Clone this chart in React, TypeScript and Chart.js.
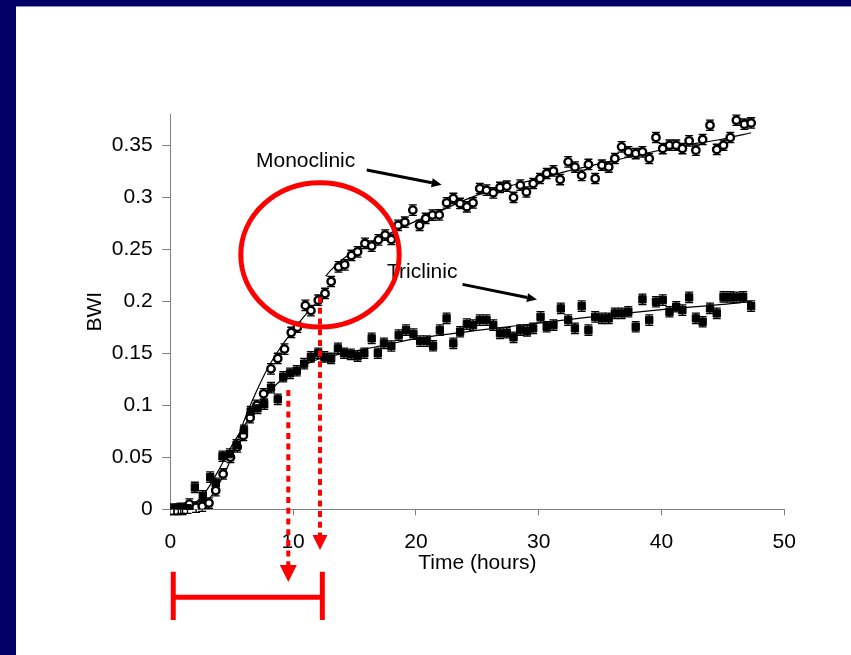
import React, { useEffect, useRef } from 'react';
import { Chart, registerables } from 'chart.js';

Chart.register(...registerables);

// ---------- data ----------
const X_TICKS = [0, 10, 20, 30, 40, 50];
const Y_TICKS = [0, 0.05, 0.1, 0.15, 0.2, 0.25, 0.3, 0.35];

const MONO_X = [0.3, 0.85, 1.55, 2.1, 2.6, 3.15, 3.7, 4.3, 4.9, 5.45, 5.95, 6.5, 7.05, 7.6, 8.2, 8.75, 9.3, 9.85, 10.35, 11.0, 11.45, 12.05, 12.6, 13.1, 13.7, 14.2, 14.75, 15.25, 15.85, 16.4, 16.95, 17.5, 18.0, 18.55, 19.1, 19.75, 20.3, 20.8, 21.35, 21.9, 22.5, 23.05, 23.6, 24.15, 24.65, 25.2, 25.75, 26.3, 26.85, 27.4, 27.95, 28.5, 29.0, 29.55, 30.1, 30.65, 31.2, 31.75, 32.4, 32.95, 33.5, 34.05, 34.6, 35.15, 35.7, 36.2, 36.75, 37.3, 37.9, 38.45, 39.0, 39.55, 40.1, 40.65, 41.2, 41.7, 42.25, 42.8, 43.35, 43.95, 44.5, 45.05, 45.6, 46.1, 46.75, 47.3];
const MONO_Y = [0, 0.001, 0.005, 0.002, 0.003, 0.006, 0.018, 0.034, 0.05, 0.06, 0.071, 0.088, 0.1, 0.111, 0.135, 0.145, 0.154, 0.17, 0.175, 0.196, 0.191, 0.201, 0.2075, 0.219, 0.233, 0.235, 0.244, 0.2475, 0.2556, 0.253, 0.259, 0.2636, 0.2594, 0.273, 0.276, 0.2876, 0.273, 0.2796, 0.2828, 0.283, 0.2946, 0.2988, 0.294, 0.2908, 0.2946, 0.3084, 0.3068, 0.3042, 0.3094, 0.3106, 0.2998, 0.3116, 0.305, 0.3132, 0.318, 0.3228, 0.3253, 0.317, 0.334, 0.329, 0.321, 0.3315, 0.318, 0.3308, 0.329, 0.3372, 0.3484, 0.3436, 0.342, 0.3436, 0.3372, 0.3574, 0.3468, 0.35, 0.35, 0.3468, 0.3542, 0.3452, 0.3555, 0.3692, 0.3459, 0.35, 0.3574, 0.374, 0.3702, 0.3714];

const TRI_X = [0.3, 0.65, 1.0, 1.4, 2.0, 2.65, 3.25, 3.7, 4.25, 4.85, 5.4, 6.0, 6.55, 7.1, 7.65, 8.2, 8.75, 9.2, 9.75, 10.3, 10.9, 11.45, 12.05, 12.55, 13.1, 13.65, 14.15, 14.7, 15.25, 15.8, 16.4, 16.9, 17.4, 18.0, 18.6, 19.2, 19.8, 20.35, 20.9, 21.4, 21.95, 22.5, 23.05, 23.6, 24.15, 24.65, 25.2, 25.75, 26.3, 26.85, 27.4, 27.95, 28.5, 29.05, 29.55, 30.15, 30.65, 31.2, 31.8, 32.4, 32.95, 33.5, 34.05, 34.6, 35.15, 35.7, 36.2, 36.75, 37.3, 37.9, 38.45, 39.0, 39.55, 40.1, 40.65, 41.2, 41.7, 42.25, 42.8, 43.35, 43.95, 44.5, 45.05, 45.6, 46.1, 46.65, 47.3];
const TRI_Y = [0, 0, 0, 0.001, 0.021, 0.013, 0.031, 0.025, 0.051, 0.053, 0.062, 0.076, 0.094, 0.097, 0.101, 0.117, 0.1057, 0.1274, 0.1307, 0.1332, 0.14, 0.1466, 0.15, 0.1466, 0.145, 0.1547, 0.15, 0.149, 0.1473, 0.15, 0.1643, 0.15, 0.1595, 0.157, 0.1675, 0.1723, 0.1684, 0.1617, 0.1617, 0.1572, 0.1723, 0.1835, 0.1595, 0.1707, 0.178, 0.177, 0.1819, 0.1819, 0.177, 0.1691, 0.1697, 0.1653, 0.1723, 0.1716, 0.1739, 0.185, 0.1755, 0.1771, 0.1931, 0.1819, 0.1739, 0.1953, 0.1723, 0.185, 0.1835, 0.1835, 0.1883, 0.1883, 0.1899, 0.1755, 0.2018, 0.1819, 0.1995, 0.2011, 0.1899, 0.1947, 0.1915, 0.2037, 0.1835, 0.1803, 0.1931, 0.1883, 0.2043, 0.2043, 0.2037, 0.2043, 0.1953];

const MONO_ERR = 0.005;
const TRI_ERR = 0.005;

// fitted curves
const MONO_FIT1_X = [0, 1, 2, 3, 4, 5, 6, 7, 8, 9, 10, 11, 12.1];
const MONO_FIT1_Y = [0, 0.0005, 0.002, 0.008, 0.025, 0.05, 0.085, 0.113, 0.137, 0.156, 0.172, 0.187, 0.201];
const MONO_FIT2_X = [12.65, 13, 14, 15, 16, 17, 18, 20, 22, 25, 28, 30, 33, 36, 39, 42, 45, 47.3];
const MONO_FIT2_Y = [0.224, 0.229, 0.24, 0.248, 0.255, 0.26, 0.266, 0.277, 0.287, 0.302, 0.312, 0.318, 0.327, 0.335, 0.343, 0.35, 0.356, 0.362];
const TRI_FIT_X = [0, 1, 2, 3, 4, 5, 6, 7, 8, 9, 10, 11, 12, 13, 15, 17.5, 20, 25, 30, 35, 40, 45, 47.3];
const TRI_FIT_Y = [0, 0.001, 0.006, 0.019, 0.039, 0.061, 0.08, 0.097, 0.112, 0.124, 0.133, 0.139, 0.144, 0.147, 0.152, 0.158, 0.164, 0.172, 0.179, 0.186, 0.192, 0.197, 0.2];

// annotation anchors in data units
const MONO_LABEL = { text: 'Monoclinic', x: 6.98, y: 0.335 };
const MONO_ARROW = { x0: 16.0, y0: 0.3261, x1: 22.1, y1: 0.3121 };
const TRI_LABEL = { text: 'Triclinic', x: 17.65, y: 0.228 };
const TRI_ARROW = { x0: 23.8, y0: 0.2162, x1: 29.86, y1: 0.2016 };
const RED_CIRCLE = { cx: 12.19, cy: 0.2446, rx: 6.45, ry: 0.0694 };
const RED_DROPS = [
  { x: 9.61, y0: 0.1146, yBase: -0.0535, yTip: -0.0698 },
  { x: 12.19, y0: 0.204, yBase: -0.0247, yTip: -0.0391 },
];
const RED_BRACKET = { x0: 0.24, x1: 12.38, y: -0.0846, yTop: -0.06, yBot: -0.1064 };

const FONT = "'Liberation Sans', Arial, Helvetica, sans-serif";

const pts = (xs: number[], ys: number[]) => xs.map((x, i) => ({ x, y: ys[i] }));

export default function App() {
  const ref = useRef<HTMLCanvasElement>(null);

  useEffect(() => {
    const canvas = ref.current!;

    const errorBars = {
      id: 'errorBars',
      beforeDatasetsDraw(chart: any) {
        const { ctx } = chart;
        const xs = chart.scales.x;
        const ys = chart.scales.y;
        ctx.save();
        ctx.strokeStyle = '#000';
        ctx.lineWidth = 1.3;
        const draw = (X: number[], Y: number[], E: number) => {
          for (let i = 0; i < X.length; i++) {
            const px = xs.getPixelForValue(X[i]);
            const t = ys.getPixelForValue(Y[i] + E);
            const b = ys.getPixelForValue(Y[i] - E);
            ctx.beginPath();
            ctx.moveTo(px, t);
            ctx.lineTo(px, b);
            ctx.moveTo(px - 4, t);
            ctx.lineTo(px + 4, t);
            ctx.moveTo(px - 4, b);
            ctx.lineTo(px + 4, b);
            ctx.stroke();
          }
        };
        draw(MONO_X, MONO_Y, MONO_ERR);
        draw(TRI_X, TRI_Y, TRI_ERR);
        ctx.restore();
      },
    };

    const overlay = {
      id: 'overlay',
      beforeDraw(chart: any) {
        const { ctx, width, height } = chart;
        ctx.save();
        ctx.fillStyle = '#ffffff';
        ctx.fillRect(0, 0, width, height);
        ctx.fillStyle = '#000066';
        ctx.fillRect(0, 0, width, 6);
        ctx.fillRect(0, 0, 16, height);
        ctx.fillStyle = '#8a8abf';
        ctx.fillRect(16, 6, width - 16, 1);
        ctx.restore();
      },
      afterDraw(chart: any) {
        const { ctx } = chart;
        const xs = chart.scales.x;
        const ys = chart.scales.y;
        const px = (v: number) => xs.getPixelForValue(v);
        const py = (v: number) => ys.getPixelForValue(v);
        ctx.save();

        // labels
        ctx.font = `21px ${FONT}`;
        ctx.fillStyle = '#000';
        ctx.textAlign = 'left';
        ctx.textBaseline = 'middle';
        ctx.fillText(MONO_LABEL.text, px(MONO_LABEL.x), py(MONO_LABEL.y));
        ctx.fillText(TRI_LABEL.text, px(TRI_LABEL.x), py(TRI_LABEL.y));

        // black arrows
        const arrow = (a: { x0: number; y0: number; x1: number; y1: number }) => {
          const x0 = px(a.x0), y0 = py(a.y0), x1 = px(a.x1), y1 = py(a.y1);
          const ang = Math.atan2(y1 - y0, x1 - x0);
          const L = 10, W = 4.5;
          const bx = x1 - L * Math.cos(ang), by = y1 - L * Math.sin(ang);
          ctx.strokeStyle = '#000';
          ctx.lineWidth = 3;
          ctx.beginPath();
          ctx.moveTo(x0, y0);
          ctx.lineTo(bx, by);
          ctx.stroke();
          ctx.fillStyle = '#000';
          ctx.beginPath();
          ctx.moveTo(x1, y1);
          ctx.lineTo(bx + W * Math.sin(ang), by - W * Math.cos(ang));
          ctx.lineTo(bx - W * Math.sin(ang), by + W * Math.cos(ang));
          ctx.closePath();
          ctx.fill();
        };
        arrow(MONO_ARROW);
        arrow(TRI_ARROW);

        // red circle
        ctx.strokeStyle = '#ff0000';
        ctx.lineWidth = 5;
        ctx.beginPath();
        const cx = px(RED_CIRCLE.cx), cy = py(RED_CIRCLE.cy);
        const rx = px(RED_CIRCLE.cx + RED_CIRCLE.rx) - cx;
        const ry = cy - py(RED_CIRCLE.cy + RED_CIRCLE.ry);
        ctx.ellipse(cx, cy, rx, ry, 0, 0, Math.PI * 2);
        ctx.stroke();

        // red dotted drop arrows
        RED_DROPS.forEach((d, i) => {
          const x = px(d.x);
          ctx.strokeStyle = '#ff0000';
          ctx.lineWidth = 4;
          ctx.setLineDash([6, 4.7]);
          ctx.beginPath();
          ctx.moveTo(x, py(d.y0));
          ctx.lineTo(x, py(d.yBase));
          ctx.stroke();
          ctx.setLineDash([]);
          const hw = i === 0 ? 8.5 : 7.5;
          ctx.fillStyle = '#ff0000';
          ctx.beginPath();
          ctx.moveTo(x - hw, py(d.yBase));
          ctx.lineTo(x + hw, py(d.yBase));
          ctx.lineTo(x, py(d.yTip));
          ctx.closePath();
          ctx.fill();
        });

        // red bracket
        ctx.strokeStyle = '#ff0000';
        ctx.lineWidth = 5;
        ctx.beginPath();
        ctx.moveTo(px(RED_BRACKET.x0), py(RED_BRACKET.y));
        ctx.lineTo(px(RED_BRACKET.x1), py(RED_BRACKET.y));
        ctx.moveTo(px(RED_BRACKET.x0), py(RED_BRACKET.yTop));
        ctx.lineTo(px(RED_BRACKET.x0), py(RED_BRACKET.yBot));
        ctx.moveTo(px(RED_BRACKET.x1), py(RED_BRACKET.yTop));
        ctx.lineTo(px(RED_BRACKET.x1), py(RED_BRACKET.yBot));
        ctx.stroke();

        ctx.restore();
      },
    };

    const lineDs = (data: any[]) => ({
      type: 'line' as const,
      data,
      showLine: true,
      borderColor: '#000',
      borderWidth: 1.2,
      pointRadius: 0,
      fill: false,
      cubicInterpolationMode: 'monotone' as const,
    });

    const chart = new Chart(canvas, {
      type: 'scatter',
      data: {
        datasets: [
          {
            label: 'Triclinic',
            data: pts(TRI_X, TRI_Y),
            pointStyle: 'rect',
            pointRadius: 5.2,
            pointBackgroundColor: '#000',
            pointBorderColor: '#000',
            pointBorderWidth: 1,
          } as any,
          {
            label: 'Monoclinic',
            data: pts(MONO_X, MONO_Y),
            pointStyle: 'circle',
            pointRadius: 3.7,
            pointBackgroundColor: '#fff',
            pointBorderColor: '#000',
            pointBorderWidth: 2.4,
          } as any,
          lineDs(pts(MONO_FIT1_X, MONO_FIT1_Y)) as any,
          lineDs(pts(MONO_FIT2_X, MONO_FIT2_Y)) as any,
          lineDs(pts(TRI_FIT_X, TRI_FIT_Y)) as any,
        ],
      },
      options: {
        responsive: false,
        animation: false,
        layout: { padding: { left: 0, top: 114, right: 66.7, bottom: 79 } },
        plugins: { legend: { display: false }, tooltip: { enabled: false } },
        scales: {
          x: {
            type: 'linear',
            min: 0,
            max: 50,
            afterBuildTicks: (s: any) => {
              s.ticks = X_TICKS.map((v) => ({ value: v }));
            },
            afterFit: (s: any) => {
              s.height = 66.7;
            },
            ticks: {
              font: { family: FONT, size: 21 },
              color: '#000',
              padding: 14.6,
              maxRotation: 0,
              autoSkip: false,
              callback: (v: any) => String(v),
            },
            grid: { drawOnChartArea: false, drawTicks: true, tickLength: 6, color: '#808080', lineWidth: 1 },
            border: { color: '#808080', width: 1 },
            title: { display: true, text: 'Time (hours)', font: { family: FONT, size: 21 }, color: '#000', padding: 0 },
          },
          y: {
            type: 'linear',
            min: 0,
            max: 0.38,
            afterBuildTicks: (s: any) => {
              s.ticks = Y_TICKS.map((v) => ({ value: v }));
            },
            afterFit: (s: any) => {
              s.width = 170.3;
            },
            ticks: {
              font: { family: FONT, size: 21 },
              color: '#000',
              padding: 9.6,
              autoSkip: false,
              callback: (v: any) => String(Number(Number(v).toFixed(2))),
            },
            grid: { drawOnChartArea: false, drawTicks: true, tickLength: 8, color: '#808080', lineWidth: 1 },
            border: { color: '#808080', width: 1 },
            title: { display: true, text: 'BWI', font: { family: FONT, size: 21 }, color: '#000', padding: { top: 83, bottom: 0 } },
          },
        },
      },
      plugins: [errorBars, overlay],
    } as any);

    return () => chart.destroy();
  }, []);

  return (
    <div style={{ position: 'absolute', left: 0, top: 0, width: 851, height: 655, background: '#fff' }}>
      <canvas ref={ref} width={851} height={655} />
    </div>
  );
}
